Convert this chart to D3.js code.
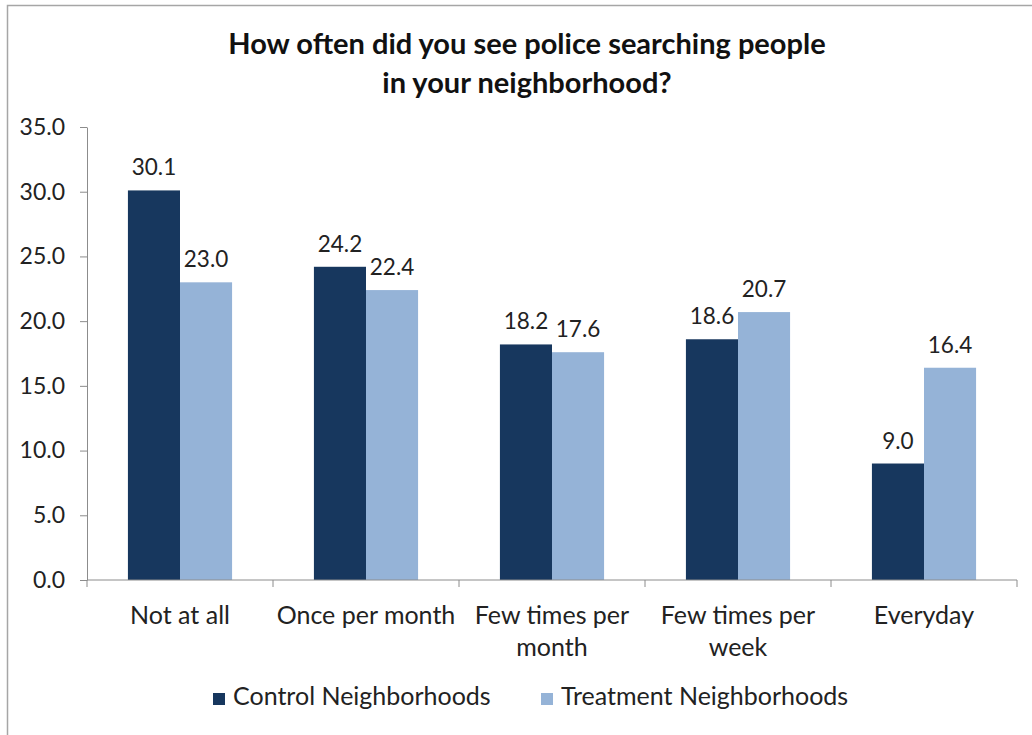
<!DOCTYPE html>
<html>
<head>
<meta charset="utf-8">
<script src="https://cdn.jsdelivr.net/npm/d3@7"></script>
<style>
  body { margin: 0; background: #fff; }
  svg { display: block; font-family: Lato, "Open Sans", sans-serif; }
</style>
</head>
<body>
<div id="chart"></div>
<script>
const categories = [["Not at all"], ["Once per month"], ["Few times per", "month"], ["Few times per", "week"], ["Everyday"]];
const seriesNames = ["Control Neighborhoods", "Treatment Neighborhoods"];
const controlValues = [30.1, 24.2, 18.2, 18.6, 9.0];
const treatmentValues = [23.0, 22.4, 17.6, 20.7, 16.4];
const yTicks = [0, 5, 10, 15, 20, 25, 30, 35];
const colors = ["#17375E", "#95B3D7"];

const W = 1032, H = 735;
const margin = { left: 87, right: 15, top: 127, bottom: 155 };

const svg = d3.select("#chart").append("svg")
  .attr("width", W).attr("height", H);

// outer frame
svg.append("rect")
  .attr("x", 7.5).attr("y", 5.5)
  .attr("width", W).attr("height", H)
  .attr("fill", "none").attr("stroke", "#a6a6a6").attr("stroke-width", 1.5);

const titleLines = ["How often did you see police searching people", "in your neighborhood?"];
svg.selectAll(".title").data(titleLines).join("text")
  .attr("class", "title")
  .attr("x", 527).attr("y", (d, i) => 54 + i * 39)
  .attr("text-anchor", "middle")
  .style("font-size", "29px").style("font-weight", "bold").style("fill", "#111")
  .text(d => d);

const x0 = d3.scaleBand().domain(d3.range(categories.length))
  .range([margin.left, W - margin.right]).paddingInner(0).paddingOuter(0);
const innerPad = 0.44;
const x1 = d3.scaleBand().domain([0, 1])
  .range([x0.bandwidth() * innerPad / 2, x0.bandwidth() * (1 - innerPad / 2)]);
const y = d3.scaleLinear().domain([0, 35]).range([H - margin.bottom, margin.top]);

// y axis
const yAxis = svg.append("g")
  .attr("transform", `translate(${margin.left},0)`)
  .call(d3.axisLeft(y).tickValues(yTicks).tickFormat(d3.format(".1f")).tickSize(7).tickSizeOuter(0));
yAxis.select(".domain").attr("stroke", "#8c8c8c");
yAxis.selectAll(".tick line").attr("stroke", "#8c8c8c");
yAxis.selectAll(".tick text")
  .attr("x", -22)
  .style("font-size", "23px").style("fill", "#222").style("font-family", "Lato, sans-serif");

// bars
const groups = svg.selectAll(".cat").data(categories).join("g")
  .attr("class", "cat")
  .attr("transform", (d, i) => `translate(${x0(i)},0)`);

const vals = (i) => [controlValues[i], treatmentValues[i]];

groups.selectAll("rect").data((d, i) => vals(i)).join("rect")
  .attr("x", (d, j) => x1(j))
  .attr("width", x1.bandwidth())
  .attr("y", d => y(d))
  .attr("height", d => y(0) - y(d))
  .attr("fill", (d, j) => colors[j]);

groups.selectAll(".val").data((d, i) => vals(i)).join("text")
  .attr("class", "val")
  .attr("x", (d, j) => x1(j) + x1.bandwidth() / 2)
  .attr("y", d => y(d) - 15)
  .attr("text-anchor", "middle")
  .style("font-size", "22.5px").style("fill", "#222")
  .text(d => d.toFixed(1));

// x axis
const xAxis = svg.append("g")
  .attr("transform", `translate(0,${y(0)})`);
xAxis.append("line")
  .attr("x1", margin.left).attr("x2", W - margin.right)
  .attr("stroke", "#8c8c8c");
xAxis.selectAll(".xtick").data(d3.range(categories.length + 1)).join("line")
  .attr("class", "xtick")
  .attr("x1", i => i < categories.length ? x0(i) : x0(i - 1) + x0.bandwidth())
  .attr("x2", i => i < categories.length ? x0(i) : x0(i - 1) + x0.bandwidth())
  .attr("y1", 0).attr("y2", 7)
  .attr("stroke", "#8c8c8c");

const xl = svg.selectAll(".xlab").data(categories).join("text")
  .attr("class", "xlab")
  .attr("text-anchor", "middle")
  .style("font-size", "25px").style("fill", "#222");
xl.selectAll("tspan").data((d, i) => d.map(s => ({ s, i }))).join("tspan")
  .attr("x", d => x0(d.i) + x0.bandwidth() / 2)
  .attr("y", (d, k) => 624 + k * 32)
  .text(d => d.s);

// legend
const legendX = [213, 541];
const lg = svg.selectAll(".legend").data(seriesNames).join("g")
  .attr("class", "legend")
  .attr("transform", (d, i) => `translate(${legendX[i]},693)`);
lg.append("rect").attr("width", 12).attr("height", 12).attr("fill", (d, i) => colors[i]);
lg.append("text").attr("x", 20).attr("y", 6).attr("dominant-baseline", "middle")
  .style("font-size", "25px").style("fill", "#222")
  .text(d => d);
</script>
</body>
</html>
